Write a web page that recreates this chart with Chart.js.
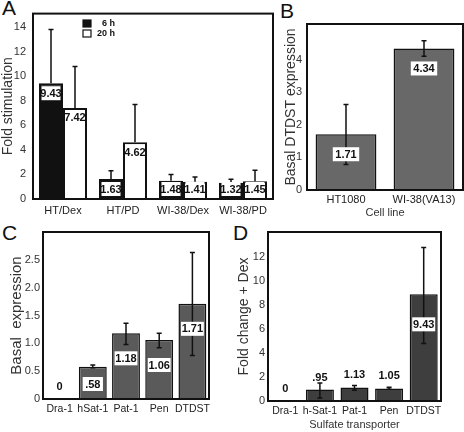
<!DOCTYPE html>
<html>
<head>
<meta charset="utf-8">
<script src="https://cdn.jsdelivr.net/npm/chart.js@4.4.1/dist/chart.umd.min.js"></script>
<style>
  body { margin: 0; width: 464px; height: 432px; background: #fff; position: relative; overflow: hidden; font-family: "Liberation Sans", Arial, sans-serif; }
  canvas { position: absolute; }
  .tag { position: absolute; font-size: 21px; line-height: 1; color: #111; }
</style>
</head>
<body>
<div class="tag" style="left:2px;top:-3px">A</div>
<div class="tag" style="left:280px;top:0px">B</div>
<div class="tag" style="left:2px;top:222px">C</div>
<div class="tag" style="left:233px;top:222px">D</div>
<canvas id="chartA" width="280" height="222" style="left:0;top:0"></canvas>
<canvas id="chartB" width="186" height="222" style="left:278px;top:0"></canvas>
<canvas id="chartC" width="225" height="210" style="left:0;top:222px"></canvas>
<canvas id="chartD" width="236" height="210" style="left:228px;top:222px"></canvas>
<script>
// panel A - fold stimulation, 6 h vs 20 h
const groupsA = ['HT/Dex', 'HT/PD', 'WI-38/Dex', 'WI-38/PD'];
const sixHour = [9.43, 1.63, 1.48, 1.32];
const sixHourTop = [13.8, 2.3, 2.0, 1.6];
const twentyHour = [7.42, 4.62, 1.41, 1.45];
const twentyHourTop = [10.8, 7.7, 1.8, 2.35];

// panel B - basal DTDST by cell line
const cellLines = ['HT1080', 'WI-38(VA13)'];
const basalDtdst = [1.71, 4.34];
const basalDtdstLow = [0.78, 4.1];
const basalDtdstHigh = [2.62, 4.58];

// panel C - basal expression of transporters
const transportersC = ['Dra-1', 'hSat-1', 'Pat-1', 'Pen', 'DTDST'];
const basalExpr = [0, 0.58, 1.18, 1.06, 1.71];
const basalExprText = ['0', '.58', '1.18', '1.06', '1.71'];
const basalExprLow = [null, 0.56, 0.98, 0.92, 0.78];
const basalExprHigh = [null, 0.61, 1.36, 1.18, 2.63];

// panel D - fold change with Dex
const transportersD = ['Dra-1', 'h-Sat-1', 'Pat-1', 'Pen', 'DTDST'];
const foldDex = [0, 0.95, 1.13, 1.05, 8.9];
const foldDexText = ['0', '.95', '1.13', '1.05', '9.43'];
const foldDexLow = [null, 0.25, 0.9, 0.98, 4.8];
const foldDexHigh = [null, 1.5, 1.3, 1.14, 12.8];

Chart.defaults.font.family = '"Liberation Sans", Arial, sans-serif';
Chart.defaults.color = '#333';

const frame = {
  id: 'frame',
  afterDraw(chart) {
    const { ctx, chartArea: a } = chart;
    ctx.save();
    ctx.strokeStyle = '#111';
    ctx.lineWidth = 2;
    ctx.strokeRect(a.left, a.top, a.right - a.left, a.bottom - a.top);
    ctx.restore();
  }
};

const errorBars = {
  id: 'errorBars',
  afterDatasetsDraw(chart) {
    const { ctx } = chart;
    const y = chart.scales.y;
    ctx.save();
    ctx.strokeStyle = '#111';
    ctx.lineWidth = 1.5;
    chart.data.datasets.forEach((ds, i) => {
      if (!ds.errHigh) return;
      chart.getDatasetMeta(i).data.forEach((bar, j) => {
        const hi = ds.errHigh[j];
        if (hi == null) return;
        const lo = ds.errLow ? ds.errLow[j] : ds.data[j];
        const y1 = y.getPixelForValue(hi), y2 = y.getPixelForValue(lo);
        ctx.beginPath();
        ctx.moveTo(bar.x, y1); ctx.lineTo(bar.x, y2);
        ctx.moveTo(bar.x - 2.5, y1); ctx.lineTo(bar.x + 2.5, y1);
        if (ds.errLow) { ctx.moveTo(bar.x - 2.5, y2); ctx.lineTo(bar.x + 2.5, y2); }
        ctx.stroke();
      });
    });
    ctx.restore();
  }
};

const valueLabels = {
  id: 'valueLabels',
  afterDatasetsDraw(chart, args, opts) {
    const { ctx } = chart;
    const bottom = chart.chartArea.bottom;
    ctx.save();
    ctx.font = 'bold 11px "Liberation Sans", Arial, sans-serif';
    ctx.textAlign = 'center';
    ctx.textBaseline = 'middle';
    chart.data.datasets.forEach((ds, i) => {
      const texts = ds.valueText;
      if (!texts) return;
      chart.getDatasetMeta(i).data.forEach((bar, j) => {
        const t = texts[j];
        if (bottom - bar.y < (opts.abovePx || 0)) {
          ctx.fillStyle = '#111';
          ctx.fillText(t, bar.x, bar.y - 12);
          return;
        }
        const cy = Math.min(bar.y + opts.offset, bottom - opts.floor);
        const w = Math.min(ctx.measureText(t).width + 5, bar.width - 5);
        ctx.fillStyle = '#fff';
        ctx.fillRect(bar.x - w / 2, cy - 7, w, 14);
        ctx.fillStyle = '#111';
        ctx.fillText(t, bar.x, cy + 0.5);
      });
    });
    ctx.restore();
  }
};

const legendA = {
  id: 'legendA',
  afterDraw(chart) {
    const { ctx } = chart;
    ctx.save();
    ctx.font = 'bold 9px "Liberation Sans", Arial, sans-serif';
    ctx.textAlign = 'right';
    ctx.textBaseline = 'middle';
    chart.data.datasets.forEach((ds, i) => {
      const yy = 20 + i * 10;
      ctx.fillStyle = ds.backgroundColor;
      ctx.fillRect(83, yy, 8, 7);
      ctx.strokeStyle = '#111';
      ctx.lineWidth = 1.2;
      ctx.strokeRect(83, yy, 8, 7);
      ctx.fillStyle = '#111';
      ctx.fillText(ds.label, 115, yy + 4);
    });
    ctx.restore();
  }
};

function panelOptions(o) {
  return {
    responsive: false,
    animation: false,
    layout: { padding: { top: o.top, right: o.right, left: 0, bottom: 0 } },
    plugins: {
      legend: { display: false },
      tooltip: { enabled: false },
      valueLabels: o.labels
    },
    scales: {
      x: {
        grid: { display: false, drawTicks: false },
        border: { display: false },
        ticks: { color: '#222', font: { size: o.xFont || 11 }, padding: o.xPad, autoSkip: false, maxRotation: 0 },
        title: {
          display: !!o.xTitle,
          text: o.xTitle || '',
          color: '#333',
          font: { size: 11 },
          padding: { top: 0, bottom: o.xTitlePad || 0 }
        },
        afterFit: s => { s.height = o.xHeight; }
      },
      y: {
        min: 0,
        max: o.max,
        grid: { display: false, drawTicks: false },
        border: { display: false },
        ticks: { stepSize: o.step, color: '#333', font: { size: 11 }, padding: o.yPad, callback: o.fmt },
        afterBuildTicks: s => { s.ticks = s.ticks.filter(t => t.value <= o.lastTick + 1e-9); },
        title: {
          display: true,
          text: o.yTitle,
          color: '#333',
          font: { size: o.yTitleSize },
          padding: { top: o.yTitlePad, bottom: 0 }
        },
        afterFit: s => { s.width = o.yWidth; }
      }
    }
  };
}

new Chart(document.getElementById('chartA'), {
  type: 'bar',
  data: {
    labels: groupsA,
    datasets: [
      {
        label: '6 h',
        data: sixHour,
        errHigh: sixHourTop,
        valueText: sixHour.map(v => v.toFixed(2)),
        backgroundColor: '#111',
        borderColor: '#111',
        borderWidth: 2,
        categoryPercentage: 0.8,
        barPercentage: 1.0
      },
      {
        label: '20 h',
        data: twentyHour,
        errHigh: twentyHourTop,
        valueText: twentyHour.map(v => v.toFixed(2)),
        backgroundColor: '#fff',
        borderColor: '#111',
        borderWidth: 2,
        categoryPercentage: 0.8,
        barPercentage: 1.0
      }
    ]
  },
  options: panelOptions({
    top: 13, right: 7, xHeight: 23, xPad: 5,
    max: 15.1, step: 2, lastTick: 14, fmt: v => v,
    yTitle: 'Fold stimulation', yTitleSize: 14, yTitlePad: 0, yPad: 7, yWidth: 33,
    labels: { offset: 10, floor: 10, abovePx: 0 }
  }),
  plugins: [frame, errorBars, valueLabels, legendA]
});

new Chart(document.getElementById('chartB'), {
  type: 'bar',
  data: {
    labels: cellLines,
    datasets: [
      {
        data: basalDtdst,
        errLow: basalDtdstLow,
        errHigh: basalDtdstHigh,
        valueText: basalDtdst.map(v => v.toFixed(2)),
        backgroundColor: '#686868',
        borderColor: '#111',
        borderWidth: 1.5,
        categoryPercentage: 0.78,
        barPercentage: 1.0
      }
    ]
  },
  options: panelOptions({
    top: 24, right: 1, xHeight: 32, xPad: 3, xTitle: 'Cell line', xTitlePad: 2,
    max: 5.09, step: 1, lastTick: 5, fmt: v => v,
    yTitle: 'Basal DTDST expression', yTitleSize: 14, yTitlePad: 5, yPad: 5, yWidth: 29,
    labels: { offset: 20, floor: 14, abovePx: 0 }
  }),
  plugins: [frame, errorBars, valueLabels]
});

new Chart(document.getElementById('chartC'), {
  type: 'bar',
  data: {
    labels: transportersC,
    datasets: [
      {
        data: basalExpr,
        errLow: basalExprLow,
        errHigh: basalExprHigh,
        valueText: basalExprText,
        backgroundColor: '#5a5a5a',
        borderColor: '#111',
        borderWidth: 1.5,
        categoryPercentage: 0.84,
        barPercentage: 1.0
      }
    ]
  },
  options: panelOptions({
    top: 10, right: 16, xHeight: 33, xPad: 4, xFont: 10.5,
    max: 3.0, step: 0.5, lastTick: 2.5, fmt: v => (v === 0 ? '0' : v.toFixed(1)),
    yTitle: 'Basal  expression', yTitleSize: 15, yTitlePad: 8, yPad: 3, yWidth: 43,
    labels: { offset: 25, floor: 15, abovePx: 25 }
  }),
  plugins: [frame, errorBars, valueLabels]
});

new Chart(document.getElementById('chartD'), {
  type: 'bar',
  data: {
    labels: transportersD,
    datasets: [
      {
        data: foldDex,
        errLow: foldDexLow,
        errHigh: foldDexHigh,
        valueText: foldDexText,
        backgroundColor: '#3e3e3e',
        borderColor: '#111',
        borderWidth: 1.5,
        categoryPercentage: 0.81,
        barPercentage: 1.0
      }
    ]
  },
  options: panelOptions({
    top: 10, right: 23, xHeight: 31, xPad: 4, xFont: 10.5, xTitle: 'Sulfate transporter', xTitlePad: 0,
    max: 14.1, step: 2, lastTick: 12, fmt: v => v,
    yTitle: 'Fold change + Dex', yTitleSize: 14, yTitlePad: 8, yPad: 3, yWidth: 40,
    labels: { offset: 30, floor: 15, abovePx: 25 }
  }),
  plugins: [frame, errorBars, valueLabels]
});
</script>
</body>
</html>
